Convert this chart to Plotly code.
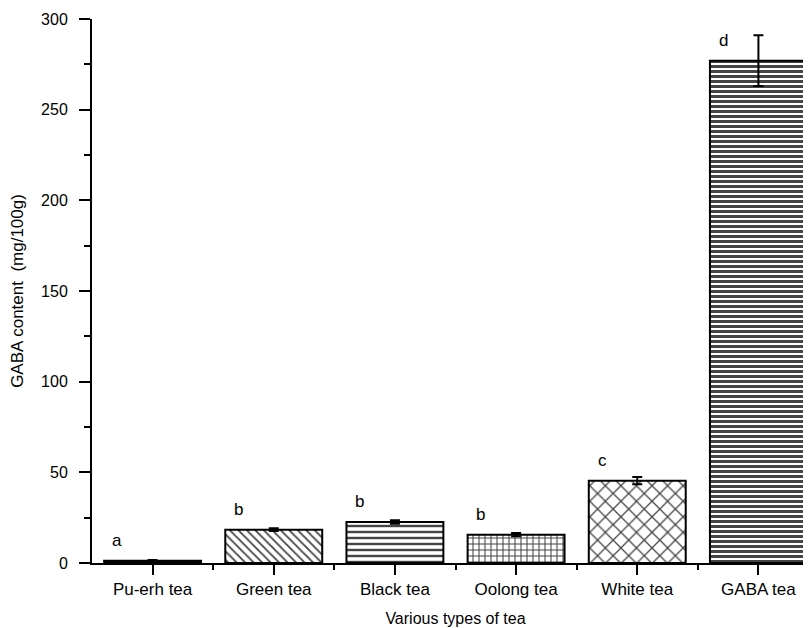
import plotly.graph_objects as go

categories = ["Pu-erh tea", "Green tea", "Black tea", "Oolong tea", "White tea", "GABA tea"]
gaba_values = [1.3, 18.4, 22.6, 15.6, 45.4, 277.0]
gaba_errors = [0.3, 0.8, 1.0, 0.9, 2.0, 14.0]
sig_letters = ["a", "b", "b", "b", "c", "d"]

x_pos = list(range(len(categories)))

shapes = ["", "\\", "-", "+", "x", "-"]
colors = ["black", "white", "white", "white", "white", "white"]
psize = [6, 6, 6, 6, 11, 5]
psolid = [0.3, 0.3, 0.4, 0.32, 0.22, 0.6]

fig = go.Figure()
fig.add_trace(go.Bar(
    x=x_pos, y=gaba_values, width=0.8,
    marker=dict(color=colors, line=dict(color="black", width=2),
                pattern=dict(shape=shapes, fgcolor="black", fgopacity=1,
                             size=psize, solidity=psolid, fillmode="overlay")),
    error_y=dict(type="data", array=gaba_errors, color="black", thickness=2, width=5),
    showlegend=False,
))

for i, (v, s) in enumerate(zip(gaba_values, sig_letters)):
    fig.add_annotation(x=i - 0.29, y=v + 5, text=s, showarrow=False,
                       yanchor="bottom", font=dict(size=17, color="black"))

font = "Liberation Sans, Arial, sans-serif"
fig.update_layout(
    width=811, height=628,
    margin=dict(l=84, r=0, t=11, b=73, autoexpand=False),
    paper_bgcolor="white", plot_bgcolor="white",
    font=dict(family=font, size=16, color="black"),
    xaxis=dict(range=[-0.5, 5.5], tickvals=x_pos, ticktext=categories, automargin=False,
               showgrid=False, zeroline=False, showline=True, linecolor="black", linewidth=2,
               ticks="outside", ticklen=10, tickwidth=2, tickcolor="black",
               tickfont=dict(size=17),
               minor=dict(tickvals=[i + 0.5 for i in x_pos], ticks="outside", ticklen=5,
                          tickwidth=2, tickcolor="black", showgrid=False),
               title=dict(text="Various types of tea", standoff=14, font=dict(size=16))),
    yaxis=dict(range=[0, 300], dtick=50, showgrid=False, zeroline=False, automargin=False,
               showline=True, linecolor="black", linewidth=2,
               ticks="outside", ticklen=11, tickwidth=2, tickcolor="black",
               ticklabelstandoff=8, tickfont=dict(size=16),
               minor=dict(dtick=25, ticks="outside", ticklen=6, tickwidth=2,
                          tickcolor="black", showgrid=False),
               title=dict(text="GABA content  (mg/100g)", standoff=20, font=dict(size=17))),
)

fig.write_html("out.html")
